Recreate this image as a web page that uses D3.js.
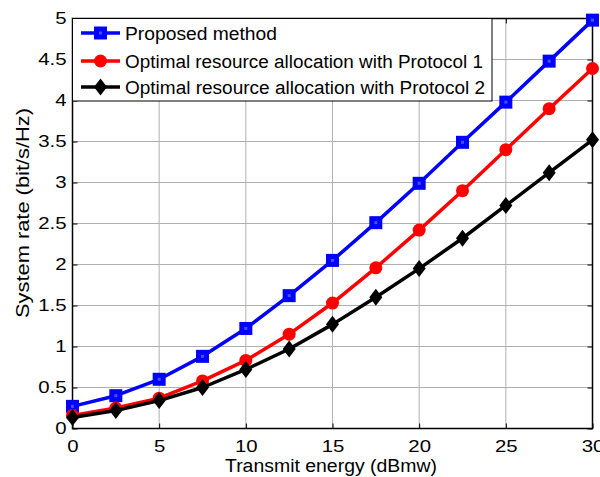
<!DOCTYPE html>
<html><head><meta charset="utf-8">
<script src="https://cdn.jsdelivr.net/npm/d3@7/dist/d3.min.js"></script>
<style>body{margin:0;background:#fff}svg{display:block}</style>
</head><body>
<svg id="c" width="600" height="477"></svg>
<script>
const energy = [0, 2.5, 5, 7.5, 10, 12.5, 15, 17.5, 20, 22.5, 25, 27.5, 30];
const proposed = [0.27, 0.40, 0.60, 0.88, 1.22, 1.62, 2.05, 2.51, 2.99, 3.49, 3.98, 4.48, 4.98];
const protocol1 = [0.16, 0.25, 0.37, 0.58, 0.83, 1.15, 1.53, 1.96, 2.42, 2.90, 3.40, 3.90, 4.39];
const protocol2 = [0.135, 0.22, 0.34, 0.50, 0.72, 0.97, 1.27, 1.60, 1.95, 2.32, 2.72, 3.12, 3.52];
const xTicks = [0, 5, 10, 15, 20, 25, 30];
const yTicks = [0, 0.5, 1, 1.5, 2, 2.5, 3, 3.5, 4, 4.5, 5];
const seriesNames = ["Proposed method", "Optimal resource allocation with Protocol 1", "Optimal resource allocation with Protocol 2"];

const svg = d3.select("#c");
const L = 72.5, R = 592.5, T = 18.5, B = 428.5;
const x = d3.scaleLinear().domain([0, 30]).range([L, R]);
const y = d3.scaleLinear().domain([0, 5]).range([B, T]);
const font = "Liberation Sans, Arial, sans-serif";
const sx = 1.2; // horizontal stretch of the reference text

// grid
const g = svg.append("g");
g.selectAll(".gx").data(xTicks).join("line")
  .attr("x1", d => x(d)).attr("x2", d => x(d)).attr("y1", T).attr("y2", B)
  .attr("stroke", "#b0b0b0").attr("stroke-width", 1);
g.selectAll(".gy").data(yTicks).join("line")
  .attr("y1", d => y(d)).attr("y2", d => y(d)).attr("x1", L).attr("x2", R)
  .attr("stroke", "#b0b0b0").attr("stroke-width", 1);

// axes
const tickLen = 5;
const xb = svg.append("g").attr("transform", `translate(0,${B})`)
  .call(d3.axisBottom(x).tickValues(xTicks).tickSize(-tickLen).tickPadding(11.5).tickFormat(d3.format("")));
const xt = svg.append("g").attr("transform", `translate(0,${T})`)
  .call(d3.axisTop(x).tickValues(xTicks).tickSize(-tickLen).tickFormat(""));
const yl = svg.append("g").attr("transform", `translate(${L},0)`)
  .call(d3.axisLeft(y).tickValues(yTicks).tickSize(-tickLen).tickPadding(5).tickFormat(d3.format("")));
const yr = svg.append("g").attr("transform", `translate(${R},0)`)
  .call(d3.axisRight(y).tickValues(yTicks).tickSize(-tickLen).tickFormat(""));
[xb, xt, yl, yr].forEach(a => {
  a.select(".domain").remove();
  a.selectAll("line").attr("stroke", "#000");
  a.selectAll("text").attr("font-family", font).attr("font-size", 17).attr("fill", "#000")
    .attr("transform", `scale(${sx},1)`);
});
svg.append("rect").attr("x", L).attr("y", T).attr("width", R - L).attr("height", B - T)
  .attr("fill", "none").attr("stroke", "#000").attr("stroke-width", 1.5);

// series
const series = [
  {vals: proposed, color: "#0000ff", marker: "square"},
  {vals: protocol1, color: "#ff0000", marker: "circle"},
  {vals: protocol2, color: "#000000", marker: "diamond"}
];
const line = d3.line().x((d, i) => x(energy[i])).y(d => y(d));
function drawMarker(sel, type, color) {
  if (type === "square") {
    sel.append("rect").attr("x", -5.5).attr("y", -5.5).attr("width", 11).attr("height", 11)
      .attr("fill", color).attr("stroke", color).attr("stroke-width", 2);
    sel.append("rect").attr("x", -1.5).attr("y", -1.5).attr("width", 3).attr("height", 3)
      .attr("fill", "#4d4dff");
  } else if (type === "circle") {
    sel.append("circle").attr("r", 6.5).attr("fill", color);
  } else {
    sel.append("path").attr("d", "M0,-8.5L6.5,0L0,8.5L-6.5,0Z").attr("fill", color);
  }
}
series.forEach(s => {
  svg.append("path").datum(s.vals).attr("d", line)
    .attr("fill", "none").attr("stroke", s.color).attr("stroke-width", 3.5).attr("stroke-linejoin", "round");
  svg.append("g").selectAll("g").data(s.vals).join("g")
    .attr("transform", (d, i) => `translate(${x(energy[i])},${y(d)})`)
    .each(function() { drawMarker(d3.select(this), s.marker, s.color); });
});

// legend
const lg = svg.append("g");
lg.append("rect").attr("x", L).attr("y", T).attr("width", 492 - L).attr("height", 101 - T)
  .attr("fill", "#fff").attr("stroke", "#000").attr("stroke-width", 1);
const ly = [33, 61, 87];
const lw = [152, 358, 360];
series.forEach((s, i) => {
  lg.append("line").attr("x1", 81).attr("x2", 120).attr("y1", ly[i]).attr("y2", ly[i])
    .attr("stroke", s.color).attr("stroke-width", 3.5);
  const m = lg.append("g").attr("transform", `translate(100.5,${ly[i]})`);
  drawMarker(m, s.marker, s.color);
  lg.append("text").attr("x", 125).attr("y", ly[i] + 6.5).text(seriesNames[i])
    .attr("textLength", lw[i]).attr("lengthAdjust", "spacingAndGlyphs")
    .attr("font-family", font).attr("font-size", 18).attr("fill", "#000");
});

// titles
svg.append("text").attr("x", 331).attr("y", 472).attr("text-anchor", "middle")
  .attr("textLength", 212).attr("lengthAdjust", "spacingAndGlyphs")
  .attr("font-family", font).attr("font-size", 18).text("Transmit energy (dBmw)");
svg.append("text").attr("transform", `translate(28.5,213) rotate(-90)`).attr("text-anchor", "middle")
  .attr("textLength", 210).attr("lengthAdjust", "spacingAndGlyphs")
  .attr("font-family", font).attr("font-size", 18).text("System rate (bit/s/Hz)");
</script>
</body></html>
